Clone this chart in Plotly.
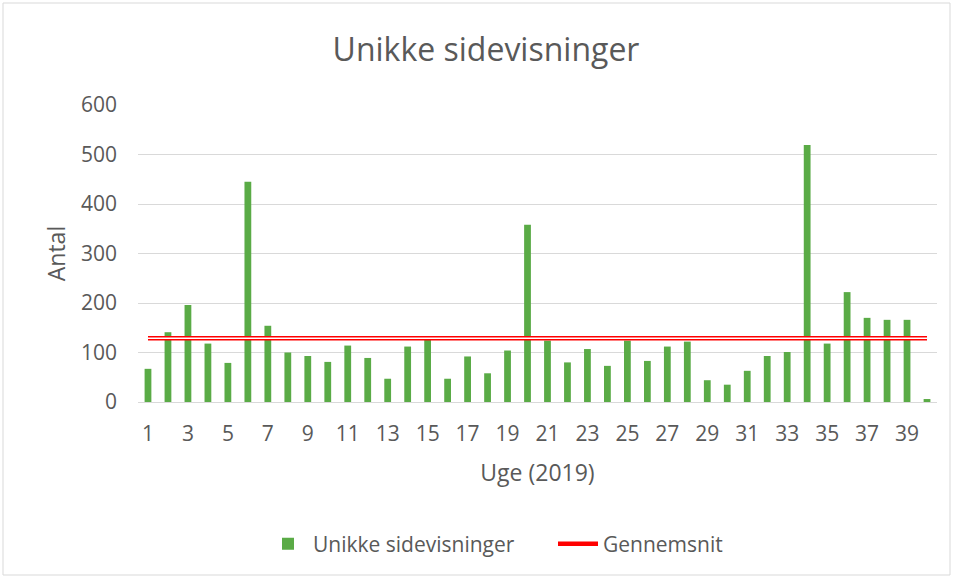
import plotly.graph_objects as go

weeks = list(range(1, 41))
views = [67, 141, 196, 118, 79, 445, 154, 100, 93, 81,
         114, 89, 47, 112, 126, 47, 92, 58, 104, 358,
         124, 80, 107, 73, 124, 83, 112, 122, 44, 35,
         63, 93, 101, 519, 118, 222, 170, 166, 166, 6]
average = [128.7] * 40
x_tick_vals = list(range(1, 40, 2))
y_tick_vals = [0, 100, 200, 300, 400, 500, 600]

W, H = 954, 578
ml, mr, mt, mb = 138, 17, 105, 176
pw, ph = W - ml - mr, H - mt - mb

font_fam = "Open Sans, Liberation Sans, sans-serif"
grey = "#595959"

fig = go.Figure()
fig.add_trace(go.Bar(x=weeks, y=views, name="Unikke sidevisninger",
                     marker=dict(color="#5aab46", line=dict(width=0))))
fig.add_trace(go.Scatter(x=weeks, y=average, mode="lines", name="Gennemsnit",
                         line=dict(color="#ff0000", width=4.5)))
fig.add_trace(go.Scatter(x=weeks, y=average, mode="lines", name="Gennemsnit",
                         showlegend=False, hoverinfo="skip",
                         line=dict(color="#ffffff", width=1.5)))

def px2paper_x(px):
    return (px - ml) / pw

def px2paper_y(py):
    return (H - mb - py) / ph

fig.add_shape(type="rect", xref="paper", yref="paper",
              x0=px2paper_x(3), x1=px2paper_x(950),
              y0=px2paper_y(575), y1=px2paper_y(3),
              line=dict(color="#d9d9d9", width=1), fillcolor="rgba(0,0,0,0)",
              layer="below")

fig.update_layout(
    width=W, height=H,
    margin=dict(l=ml, r=mr, t=mt, b=mb, autoexpand=False),
    paper_bgcolor="white", plot_bgcolor="white",
    font=dict(family=font_fam, color=grey, size=21),
    title=dict(text="Unikke sidevisninger", x=486 / W, xanchor="center",
               y=1 - 50 / H, yanchor="middle",
               font=dict(size=32, color=grey, family=font_fam)),
    bargap=0.66,
    showlegend=True,
    legend=dict(orientation="h", x=px2paper_x(263), xanchor="left",
                y=px2paper_y(544), yanchor="middle",
                font=dict(size=21, color=grey),
                traceorder="normal", itemwidth=40, entrywidth=235),
    xaxis=dict(range=[0.5, 40.5], tickmode="array", tickvals=x_tick_vals,
               ticktext=[str(v) for v in x_tick_vals], showgrid=False,
               zeroline=False, showline=False, ticks="", ticklabelstandoff=17,
               tickfont=dict(size=21, color=grey),
               title=dict(text="Uge (2019)", font=dict(size=23, color=grey), standoff=18)),
    yaxis=dict(range=[0, 600], tickvals=y_tick_vals, showgrid=True,
               gridcolor="#d9d9d9", gridwidth=1, zeroline=True,
               zerolinecolor="#d9d9d9", zerolinewidth=1, showline=False,
               ticks="", ticklabelstandoff=20,
               tickfont=dict(size=21, color=grey),
               title=dict(text="Antal", font=dict(size=23, color=grey), standoff=8)),
)

fig.write_html("out.html", config={"displayModeBar": False},
               post_script="document.body.style.margin='0px';")
